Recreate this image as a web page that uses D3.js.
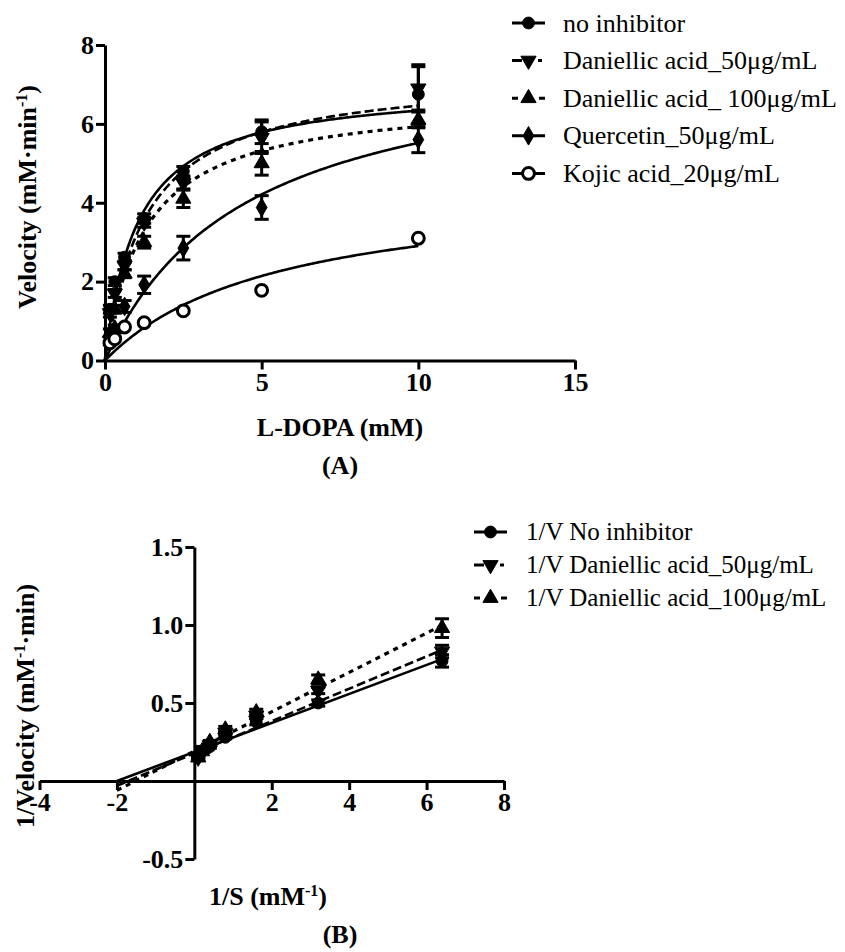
<!DOCTYPE html>
<html>
<head>
<meta charset="utf-8">
<script src="https://cdn.jsdelivr.net/npm/d3@7"></script>
<style>
  html, body { margin: 0; padding: 0; background: #fff; }
  svg { display: block; }
</style>
</head>
<body>
<div id="chart"></div>
<script>
// substrate concentrations (mM) and reciprocal values
const substrate = [0.15625, 0.3125, 0.625, 1.25, 2.5, 5, 10];
const recipS = [0.1, 0.2, 0.4, 0.8, 1.6, 3.2, 6.4];

// panel A: velocities (mM/min) and error
const seriesA = ["no inhibitor", "Daniellic acid_50μg/mL", "Daniellic acid_ 100μg/mL", "Quercetin_50μg/mL", "Kojic acid_20μg/mL"];
const vNoInh   = [1.3, 2.0, 2.62, 3.6, 4.8, 5.8, 6.75];
const vDan50   = [1.2, 1.7, 2.4, 3.5, 4.5, 5.65, 6.9];
const vDan100  = [0.7, 1.3, 2.2, 3.0, 4.1, 5.0, 6.1];
const vQuer    = [0.5, 0.8, 1.37, 1.92, 2.85, 3.88, 5.6];
const vKojic   = [0.45, 0.55, 0.85, 0.96, 1.26, 1.78, 3.1];
const eNoInh   = [0.1, 0.1, 0.1, 0.12, 0.12, 0.3, 0.75];
const eDan50   = [0.1, 0.1, 0.1, 0.12, 0.15, 0.4, 0.55];
const eDan100  = [0.1, 0.1, 0.1, 0.15, 0.22, 0.3, 0.2];
const eQuer    = [0.1, 0.1, 0.15, 0.22, 0.3, 0.3, 0.33];
const eKojic   = [0, 0, 0, 0, 0, 0, 0];
// Michaelis-Menten fit parameters [Vmax, Km]
const fitA = [[7.0, 1.05], [7.3, 1.3], [6.7, 1.3], [8.0, 4.5], [4.5, 5.5]];

// panel B: 1/V values, errors, and linear fits [slope, intercept]
const seriesB = ["1/V No inhibitor", "1/V Daniellic acid_50μg/mL", "1/V Daniellic acid_100μg/mL"];
const rNoInh  = [0.16, 0.19, 0.22, 0.28, 0.38, 0.50, 0.77];
const rDan50  = [0.15, 0.20, 0.23, 0.31, 0.42, 0.58, 0.83];
const rDan100 = [0.15, 0.19, 0.25, 0.33, 0.44, 0.65, 0.98];
const erNoInh  = [0.01, 0.01, 0.01, 0.01, 0.02, 0.02, 0.04];
const erDan50  = [0.01, 0.01, 0.01, 0.01, 0.02, 0.02, 0.04];
const erDan100 = [0.01, 0.01, 0.01, 0.02, 0.02, 0.03, 0.06];
const fitB = [[0.093, 0.186], [0.1036, 0.177], [0.126, 0.192]];

const ticksAx = [0, 5, 10, 15];
const ticksAy = [0, 2, 4, 6, 8];
const ticksBx = [-4, -2, 2, 4, 6, 8];
const ticksBy = [-0.5, 0.5, 1.0, 1.5];
const ticksByLabels = ["-0.5", "0.5", "1.0", "1.5"];

const serif = "'Liberation Serif', 'Times New Roman', serif";
const W = 845, H = 952;

const svg = d3.select("#chart").append("svg").attr("width", W).attr("height", H);

const styles = [
  { symbol: d3.symbolCircle, size: 110, fill: "#000", dash: null, width: 2.6, rot: 0 },
  { symbol: d3.symbolTriangle, size: 100, fill: "#000", dash: "9,4", width: 2.6, rot: 180 },
  { symbol: d3.symbolTriangle, size: 100, fill: "#000", dash: "5,5", width: 3.2, rot: 0 },
  { symbol: d3.symbolDiamond, size: 100, fill: "#000", dash: null, width: 2.6, rot: 0 },
  { symbol: d3.symbolCircle, size: 110, fill: "#fff", dash: null, width: 2.6, rot: 0, open: true }
];
const legendDash = [null, "10,16,4", "6,21,6", null, null];

function marker(g, st, x, y) {
  g.append("path")
    .attr("d", d3.symbol().type(st.symbol).size(st.size)())
    .attr("transform", `translate(${x},${y}) rotate(${st.rot})`)
    .attr("fill", st.fill)
    .attr("stroke", "#000")
    .attr("stroke-width", st.open ? 3 : 1);
}

function errbar(g, x, y0, y1) {
  g.append("line").attr("x1", x).attr("x2", x).attr("y1", y0).attr("y2", y1)
    .attr("stroke", "#000").attr("stroke-width", 3);
  [y0, y1].forEach(y => g.append("line").attr("x1", x - 7).attr("x2", x + 7).attr("y1", y).attr("y2", y)
    .attr("stroke", "#000").attr("stroke-width", 3));
}

function styleAxis(sel) {
  sel.select(".domain").attr("stroke", "#000").attr("stroke-width", 3);
  sel.selectAll(".tick line").attr("stroke", "#000").attr("stroke-width", 3);
  sel.selectAll(".tick text").attr("fill", "#000").attr("font-family", serif)
    .attr("font-size", 26).attr("font-weight", "bold");
}

// ---------- Panel A ----------
const xA = d3.scaleLinear().domain([0, 15]).range([105, 575]);
const yA = d3.scaleLinear().domain([0, 8]).range([360.5, 45]);

const gA = svg.append("g");

gA.append("g").attr("transform", `translate(0,${yA(0)})`)
  .call(d3.axisBottom(xA).tickValues(ticksAx).tickFormat(d => String(d)).tickSize(9).tickSizeOuter(0).tickPadding(3))
  .call(styleAxis);
gA.append("g").attr("transform", `translate(${xA(0)},0)`)
  .call(d3.axisLeft(yA).tickValues(ticksAy).tickFormat(d => String(d)).tickSize(9).tickSizeOuter(0).tickPadding(2))
  .call(styleAxis);

const valsA = [vNoInh, vDan50, vDan100, vQuer, vKojic];
const errsA = [eNoInh, eDan50, eDan100, eQuer, eKojic];

const curveX = d3.range(0, 10.001, 0.05);
fitA.forEach(([vmax, km], i) => {
  const st = styles[i];
  gA.append("path")
    .datum(curveX)
    .attr("fill", "none")
    .attr("stroke", "#000")
    .attr("stroke-width", st.width)
    .attr("stroke-dasharray", st.dash)
    .attr("d", d3.line().x(s => xA(s)).y(s => yA(vmax * s / (km + s))));
});

valsA.forEach((vals, i) => {
  const g = gA.append("g");
  vals.forEach((v, j) => {
    const e = errsA[i][j];
    if (e > 0) errbar(g, xA(substrate[j]), yA(v + e), yA(v - e));
  });
  vals.forEach((v, j) => marker(g, styles[i], xA(substrate[j]), yA(v)));
});

gA.append("text").attr("x", 340).attr("y", 436).attr("text-anchor", "middle")
  .attr("font-family", serif).attr("font-size", 26).attr("font-weight", "bold")
  .text("L-DOPA (mM)");
gA.append("text").attr("x", 340).attr("y", 474).attr("text-anchor", "middle")
  .attr("font-family", serif).attr("font-size", 26).attr("font-weight", "bold")
  .text("(A)");

const tA = gA.append("text").attr("transform", "translate(36,197) rotate(-90)")
  .attr("text-anchor", "middle").attr("font-family", serif).attr("font-size", 26).attr("font-weight", "bold");
tA.append("tspan").text("Velocity (mM·min");
tA.append("tspan").attr("dy", -9).attr("font-size", 16).text("-1");
tA.append("tspan").attr("dy", 9).text(")");

// legend A
seriesA.forEach((name, i) => {
  const y = 23 + i * 37.6;
  const st = styles[i];
  svg.append("line").attr("x1", 512).attr("x2", 545).attr("y1", y).attr("y2", y)
    .attr("stroke", "#000").attr("stroke-width", 3).attr("stroke-dasharray", legendDash[i]);
  marker(svg, st, 528.5, y);
  svg.append("text").attr("x", 563).attr("y", y + 8.5)
    .attr("font-family", serif).attr("font-size", 26).text(name);
});

// ---------- Panel B ----------
const xB = d3.scaleLinear().domain([-4, 8]).range([39.5, 504]);
const yB = d3.scaleLinear().domain([-0.5, 1.5]).range([859, 547]);
const gB = svg.append("g");

gB.append("g").attr("transform", `translate(0,${yB(0)})`)
  .call(d3.axisBottom(xB).tickValues(ticksBx).tickFormat(d => String(d)).tickSize(9).tickSizeOuter(0).tickPadding(3))
  .call(styleAxis);
gB.append("g").attr("transform", `translate(${xB(0)},0)`)
  .call(d3.axisLeft(yB).tickValues(ticksBy).tickFormat((d, i) => ticksByLabels[i]).tickSize(9).tickSizeOuter(0).tickPadding(2))
  .call(styleAxis);

const valsB = [rNoInh, rDan50, rDan100];
const errsB = [erNoInh, erDan50, erDan100];

fitB.forEach(([m, b], i) => {
  const st = styles[i];
  gB.append("path")
    .datum([-2, 6.4])
    .attr("fill", "none")
    .attr("stroke", "#000")
    .attr("stroke-width", st.width)
    .attr("stroke-dasharray", st.dash)
    .attr("d", d3.line().x(s => xB(s)).y(s => yB(m * s + b)));
});

valsB.forEach((vals, i) => {
  const g = gB.append("g");
  vals.forEach((v, j) => {
    const e = errsB[i][j];
    if (e > 0) errbar(g, xB(recipS[j]), yB(v + e), yB(v - e));
  });
  vals.forEach((v, j) => marker(g, styles[i], xB(recipS[j]), yB(v)));
});

const tBx = gB.append("text").attr("x", 268).attr("y", 905).attr("text-anchor", "middle")
  .attr("font-family", serif).attr("font-size", 26).attr("font-weight", "bold");
tBx.append("tspan").text("1/S (mM");
tBx.append("tspan").attr("dy", -9).attr("font-size", 16).text("-1");
tBx.append("tspan").attr("dy", 9).text(")");

gB.append("text").attr("x", 340).attr("y", 943).attr("text-anchor", "middle")
  .attr("font-family", serif).attr("font-size", 26).attr("font-weight", "bold")
  .text("(B)");

const tB = gB.append("text").attr("transform", "translate(34,706) rotate(-90)")
  .attr("text-anchor", "middle").attr("font-family", serif).attr("font-size", 26).attr("font-weight", "bold");
tB.append("tspan").text("1/Velocity (mM");
tB.append("tspan").attr("dy", -9).attr("font-size", 16).text("-1");
tB.append("tspan").attr("dy", 9).text("·min)");

// legend B
seriesB.forEach((name, i) => {
  const y = 532 + i * 33;
  const st = styles[i];
  svg.append("line").attr("x1", 474).attr("x2", 507).attr("y1", y).attr("y2", y)
    .attr("stroke", "#000").attr("stroke-width", 3).attr("stroke-dasharray", legendDash[i]);
  marker(svg, st, 490.5, y);
  svg.append("text").attr("x", 526).attr("y", y + 8)
    .attr("font-family", serif).attr("font-size", 25).text(name);
});
</script>
</body>
</html>
